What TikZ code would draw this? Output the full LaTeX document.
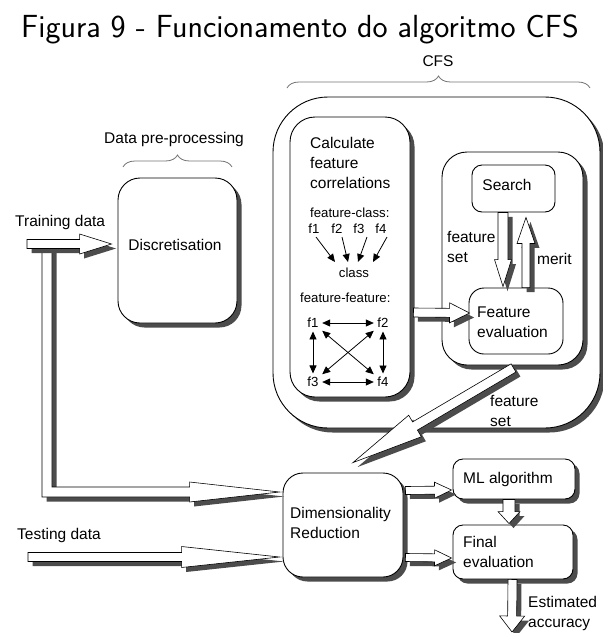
\documentclass[tikz,border=0pt]{standalone}
\usepackage{fontspec}
\setmainfont{Liberation Sans}
\usetikzlibrary{calc,shadows,arrows.meta,decorations.pathreplacing}
\newcommand{\blockarr}[5]{%
  \coordinate (ba) at (#1);
  \coordinate (bb) at (#2);
  \coordinate (bh) at ($(bb)!#5pt!(ba)$);
  \filldraw[blk] ($(ba)!#3pt!90:(bb)$) -- ($(bh)!#3pt!-90:(ba)$) -- ($(bh)!#4pt!-90:(ba)$) -- (bb)
     -- ($(bh)!#4pt!90:(ba)$) -- ($(bh)!#3pt!90:(ba)$) -- ($(ba)!#3pt!-90:(bb)$) -- cycle;
}
\begin{document}
\begin{tikzpicture}[x=1pt,y=-1pt,
  shd/.style={drop shadow={shadow xshift=4.5pt, shadow yshift=-4.5pt, fill=black!70, opacity=1}},
  box/.style={draw, line width=0.9pt, fill=white, inner sep=0pt, shape=rectangle},
  blk/.style={draw, line width=0.6pt, fill=white, line join=miter, shd},
  txt/.style={font=\fontsize{15.5}{20}\selectfont, inner sep=0pt, align=left},
  sml/.style={font=\fontsize{13.2}{16}\selectfont, inner sep=0pt},
  fl/.style={font=\fontsize{13.2}{16}\selectfont, inner sep=3.5pt},
  tarr/.style={line width=0.8pt, -{Triangle[length=8pt,width=7pt]}},
  tarrb/.style={line width=0.8pt, {Triangle[length=8pt,width=7pt]}-{Triangle[length=8pt,width=7pt]}},
  brc/.style={draw=black!55, line width=0.8pt, decorate, decoration={brace, amplitude=#1}},
]
\useasboundingbox (0,0) rectangle (603,633);

% title
\node[anchor=base, inner sep=0pt, font=\sffamily\fontsize{32}{38}\selectfont] (title) at (300,37) {Figura 9 - Funcionamento do algoritmo CFS};

% group labels and braces
\node[txt] (cfslabel) at (438,61) {CFS};
\coordinate (cbl) at (287,88);
\coordinate (cbr) at (590,88);
\draw[brc=12pt] (cbl) -- (cbr);
\node[txt] (dplabel) at (174,139) {Data pre-processing};
\coordinate (dbl) at (123,167);
\coordinate (dbr) at (232,167);
\draw[brc=12pt] (dbl) -- (dbr);

% boxes
\node[box, shd, rounded corners=55pt, minimum width=327pt, minimum height=331pt] (cfs) at (436.5,262.5) {};
\node[box, shd, rounded corners=25pt, minimum width=120pt, minimum height=280pt] (calc) at (350,257) {};
\node[box, shd, rounded corners=25pt, minimum width=141pt, minimum height=213pt] (fsbox) at (512.5,258.5) {};
\node[box, rounded corners=10pt, minimum width=83pt, minimum height=47pt] (search) at (513.5,188.5) {};
\node[box, rounded corners=15pt, minimum width=94pt, minimum height=66pt] (feval) at (516,321) {};
\node[box, shd, rounded corners=22pt, minimum width=119pt, minimum height=145pt] (disc) at (177.5,250.5) {};
\node[box, shd, rounded corners=20pt, minimum width=120pt, minimum height=104pt] (dim) at (343,525) {};
\node[box, shd, rounded corners=10pt, minimum width=122pt, minimum height=40pt] (ml) at (514,479) {};
\node[box, shd, rounded corners=10pt, minimum width=120pt, minimum height=54pt] (final) at (513,552) {};

% texts
\node[txt, anchor=west] (trainlabel) at (15,222) {Training data};
\node[txt, anchor=west] (testlabel) at (17,535) {Testing data};
\node[txt] (disctext) at (175,245) {Discretisation};
\node[txt, anchor=west] (calctext) at (310,163) {Calculate\\feature\\correlations};
\node[sml, anchor=west] (fclass) at (310,213) {feature-class:};
\node[sml] (c1) at (314,229) {f1};
\node[sml] (c2) at (337,229) {f2};
\node[sml] (c3) at (359,229) {f3};
\node[sml] (c4) at (381,229) {f4};
\node[sml] (cls) at (354,273) {class};
\node[sml, anchor=west] (ffeat) at (300,298) {feature-feature:};
\node[fl] (f1) at (313,323) {f1};
\node[fl] (f2) at (383,323) {f2};
\node[fl] (f3) at (313,382) {f3};
\node[fl] (f4) at (383,382) {f4};
\node[txt] (searchtext) at (507,185) {Search};
\node[txt, anchor=west] (fset1) at (447,247) {feature\\set};
\node[txt, anchor=west] (merit) at (537,259) {merit};
\node[txt, anchor=west] (fevaltext) at (477,322) {Feature\\evaluation};
\node[txt, anchor=west] (fset2) at (490,411) {feature\\set};
\node[txt, anchor=west] (dimtext) at (290,523) {Dimensionality\\Reduction};
\node[txt] (mltext) at (508,479) {ML algorithm};
\node[txt, anchor=west] (finaltext) at (463,552) {Final\\evaluation};
\node[txt, anchor=west] (estacc) at (528,613) {Estimated\\accuracy};

% feature-class arrows
\draw[tarr] ($(c1)+(2,8)$) -- ($(cls)+(-19,-11)$);
\draw[tarr] ($(c2)+(5,8)$) -- ($(cls)+(-6,-11)$);
\draw[tarr] ($(c3)+(8,8)$) -- ($(cls)+(4,-11)$);
\draw[tarr] ($(c4)+(6,8)$) -- ($(cls)+(19,-11)$);

% feature-feature arrows
\draw[tarrb] (f1) -- (f2);
\draw[tarrb] (f3) -- (f4);
\draw[tarrb] (f1) -- (f3);
\draw[tarrb] (f2) -- (f4);
\draw[tarrb] (f1) -- (f4);
\draw[tarrb] (f2) -- (f3);

% L-shaped training path to dimensionality reduction
\coordinate (lt) at (47,248);
\coordinate (ltip) at ($(dim.west)+(-3,-33)$);
\filldraw[blk] ($(lt)+(-5,0)$) -- ($(lt)+(-5,249)$) -- ($(ltip)+(-90,5)$) -- ($(ltip)+(-90,10)$) -- (ltip)
   -- ($(ltip)+(-90,-10)$) -- ($(ltip)+(-90,-5)$) -- ($(lt)+(5,239)$) -- ($(lt)+(5,0)$) -- cycle;

% block arrows
\coordinate (trs) at (27,244);
\blockarr{trs}{$(disc.west)+(-6,-6.5)$}{4.5}{10}{32}
\coordinate (tes) at (28,557);
\blockarr{tes}{$(dim.west)+(-3,32)$}{4.5}{10.5}{98}
\blockarr{$(calc.east)+(3,55.5)$}{$(feval.west)+(1,-8)$}{4.5}{10}{20}
\blockarr{$(search.south)+(-10.5,0)$}{$(feval.north)+(-13,-1)$}{5}{8.5}{27}
\blockarr{$(feval.north)+(10,0)$}{$(search.south)+(12.5,5)$}{4}{9}{26}
\blockarr{$(fsbox.south)+(1,2.5)$}{$(dim.north)+(10,-10)$}{4.75}{12.5}{72}
\blockarr{$(dim.east)+(2,-34.5)$}{$(ml.west)+(-1,11)$}{4}{8}{17}
\blockarr{$(dim.east)+(2,32.5)$}{$(final.west)+(-1,6)$}{4}{8}{17}
\blockarr{$(ml.south)+(-5,0)$}{$(final.north)+(-4,-1)$}{6}{11}{12}
\coordinate (outend) at (512,632);
\blockarr{$(final.south)+(-0.5,0)$}{outend}{4.5}{12.5}{16}
\end{tikzpicture}
\end{document}
